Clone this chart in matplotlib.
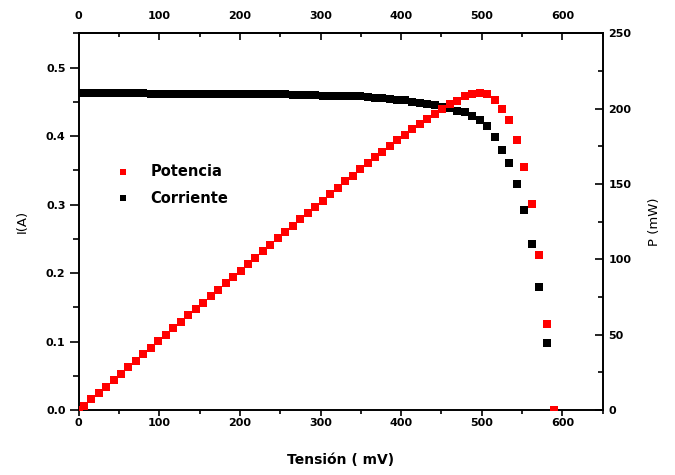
import matplotlib
matplotlib.use("Agg")
import matplotlib.pyplot as plt
from matplotlib.ticker import MultipleLocator

voltage_mV = [0, 6.0, 15.3, 24.5, 33.8, 43.1, 52.4, 61.6, 70.9, 80.2, 89.4, 98.7, 108.0,
              117.2, 126.5, 135.8, 145.1, 154.3, 163.6, 172.9, 182.1, 191.4, 200.7, 209.9,
              219.2, 228.5, 237.8, 247.0, 256.3, 265.6, 274.8, 284.1, 293.4, 302.6, 311.9,
              321.2, 330.5, 339.7, 349.0, 358.3, 367.5, 376.8, 386.1, 395.3, 404.6, 413.9,
              423.2, 432.4, 441.7, 451.0, 460.2, 469.5, 478.8, 488.0, 497.3, 506.6, 515.9,
              525.1, 534.4, 543.7, 552.9, 562.2, 571.5, 580.7, 590.0]

current_A = [0.463, 0.463, 0.463, 0.463, 0.463, 0.463, 0.463, 0.463, 0.463, 0.463, 0.462,
             0.462, 0.462, 0.462, 0.462, 0.462, 0.462, 0.462, 0.462, 0.462, 0.462, 0.462,
             0.461, 0.461, 0.461, 0.461, 0.461, 0.461, 0.461, 0.460, 0.460, 0.460, 0.460,
             0.459, 0.459, 0.459, 0.459, 0.458, 0.458, 0.457, 0.456, 0.455, 0.454, 0.453,
             0.452, 0.450, 0.449, 0.447, 0.445, 0.443, 0.441, 0.437, 0.435, 0.430, 0.423,
             0.414, 0.399, 0.380, 0.360, 0.330, 0.292, 0.243, 0.180, 0.098, 0.000]

power_mW = [0.0, 2.8, 7.1, 11.3, 15.6, 19.9, 24.2, 28.5, 32.8, 37.2, 41.3, 45.6, 49.9,
            54.2, 58.5, 62.8, 67.0, 71.3, 75.5, 79.8, 84.1, 88.4, 92.5, 96.8, 101.0,
            105.3, 109.6, 113.9, 118.2, 122.2, 126.5, 130.6, 134.9, 138.9, 143.2, 147.4,
            151.7, 155.5, 159.8, 163.7, 167.6, 171.4, 175.3, 179.0, 182.8, 186.2, 189.9,
            193.2, 196.5, 199.7, 202.9, 205.1, 208.3, 209.8, 210.3, 209.6, 205.8, 199.5,
            192.4, 179.4, 161.4, 136.6, 102.9, 56.9, 0.0]

x_ticks = [0, 100, 200, 300, 400, 500, 600]
left_ticks = [0.0, 0.1, 0.2, 0.3, 0.4, 0.5]
right_ticks = [0, 50, 100, 150, 200, 250]

plt.rcParams['font.family'] = ['DejaVu Sans']
plt.rcParams['font.weight'] = 'bold'

fig = plt.figure(figsize=(6.75, 4.75), dpi=100)
ax = fig.add_axes([0.1167, 0.1368, 0.7761, 0.7930])
ax2 = ax.twinx()

ax.scatter(voltage_mV, current_A, marker='s', s=26, color='black', linewidths=0,
           zorder=2)
ax2.scatter(voltage_mV, power_mW, marker='s', s=26, color='#ff0000', linewidths=0,
            zorder=3)

ax.set_xlim(0, 650)
ax.set_ylim(0, 0.55)
ax2.set_ylim(0, 250)

fs = 8
ax.set_xticks(x_ticks)
ax.set_xticklabels([str(t) for t in x_ticks], fontsize=fs, fontweight='bold')
ax.xaxis.set_minor_locator(MultipleLocator(50))
ax.set_yticks(left_ticks)
ax.set_yticklabels([f"{t:.1f}" for t in left_ticks], fontsize=fs, fontweight='bold')
ax.yaxis.set_minor_locator(MultipleLocator(0.05))
ax2.set_yticks(right_ticks)
ax2.set_yticklabels([str(t) for t in right_ticks], fontsize=fs, fontweight='bold')
ax2.yaxis.set_minor_locator(MultipleLocator(25))

ax.tick_params(axis='x', which='major', direction='out', length=4.5, width=1.2, pad=1.5)
ax.tick_params(axis='x', which='minor', direction='out', length=3, width=1.2)
ax.tick_params(axis='y', which='major', direction='out', length=6.5, width=1.2, pad=3)
ax.tick_params(axis='y', which='minor', direction='out', length=4, width=1.2)
ax2.tick_params(axis='y', which='major', direction='in', length=6, width=1.2, pad=4)
ax2.tick_params(axis='y', which='minor', direction='in', length=3.5, width=1.2)

top = ax.secondary_xaxis('top')
top.set_xticks(x_ticks)
top.set_xticklabels([str(t) for t in x_ticks], fontsize=fs, fontweight='bold')
top.xaxis.set_minor_locator(MultipleLocator(50))
top.tick_params(axis='x', which='major', direction='in', length=5, width=1.2, pad=9)
top.tick_params(axis='x', which='minor', direction='in', length=3, width=1.2)

for a in (ax, ax2):
    for sp in a.spines.values():
        sp.set_linewidth(1.2)
for sp in top.spines.values():
    sp.set_linewidth(1.2)

ax.set_xlabel('Tensión ( mV)', fontsize=10, fontweight='bold', labelpad=18)
ax.set_ylabel('I(A)', fontsize=9.5, fontweight='normal', labelpad=12)
ax2.set_ylabel('P (mW)', fontsize=9.5, fontweight='normal', rotation=90, labelpad=12)

# legend
ax.scatter([0.0853], [0.632], transform=ax.transAxes, marker='s', s=24, color='#ff0000',
           linewidths=0, clip_on=False)
ax.text(0.137, 0.632, 'Potencia', transform=ax.transAxes, fontsize=10.5,
        fontweight='bold', va='center', ha='left')
ax.scatter([0.0853], [0.5623], transform=ax.transAxes, marker='s', s=24, color='black',
           linewidths=0, clip_on=False)
ax.text(0.137, 0.5623, 'Corriente', transform=ax.transAxes, fontsize=10.5,
        fontweight='bold', va='center', ha='left')

fig.savefig('out.png', dpi=100)
